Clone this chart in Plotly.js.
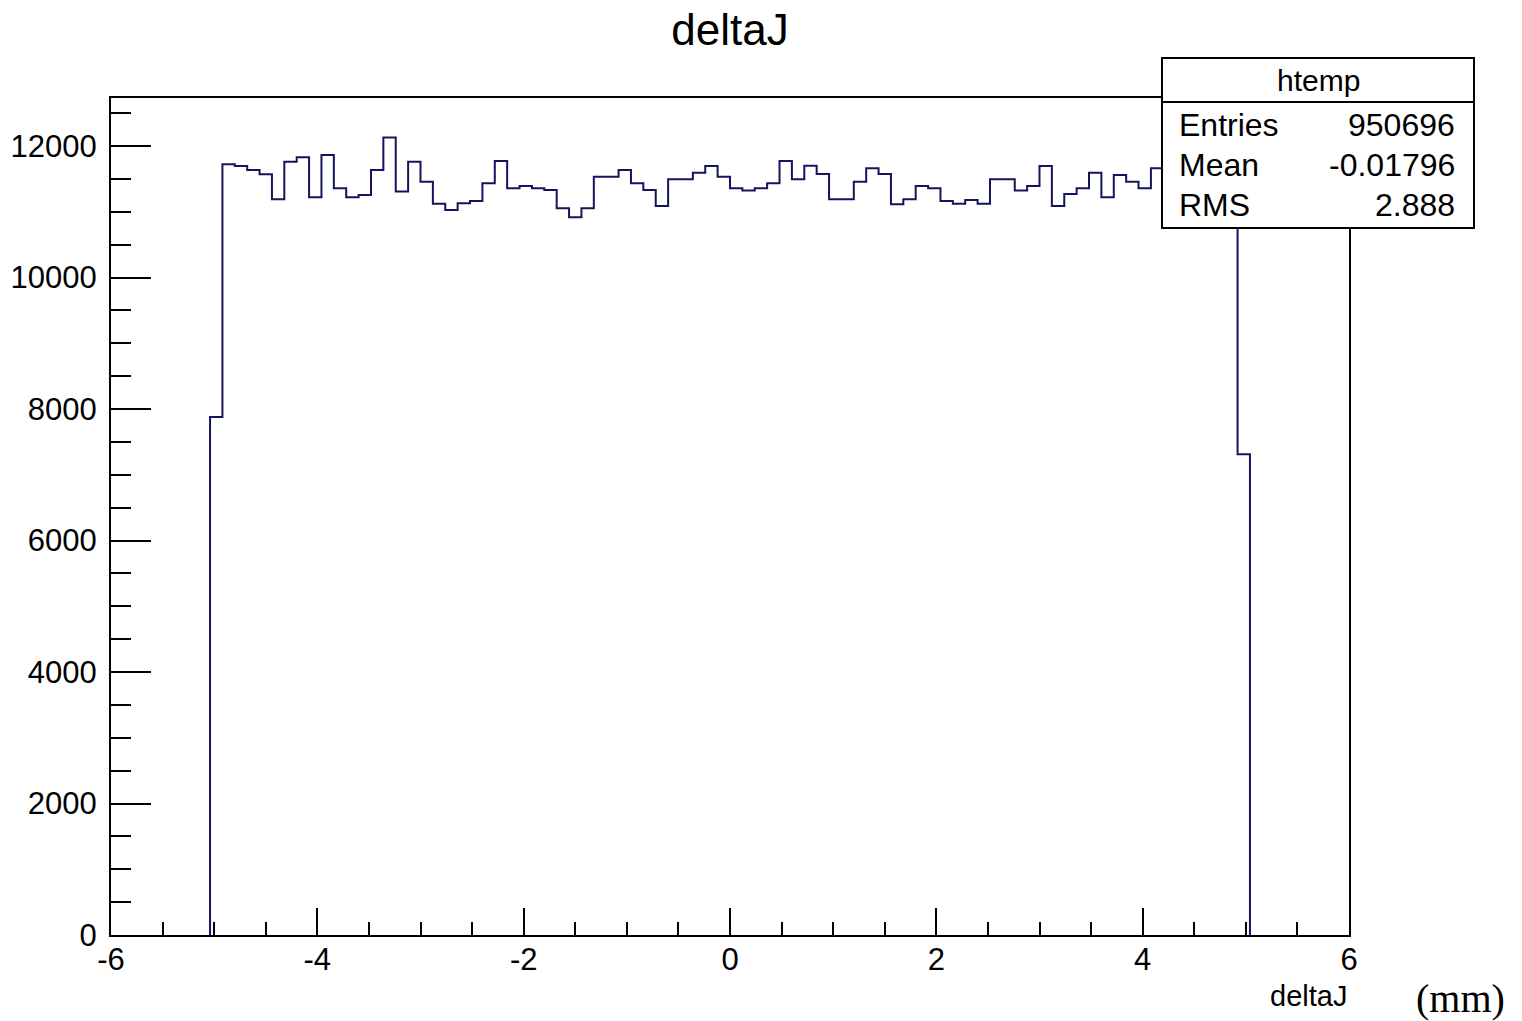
<!DOCTYPE html>
<html>
<head>
<meta charset="utf-8">
<script src="https://cdn.plot.ly/plotly-3.0.1.min.js"></script>
<style>
  html, body { margin: 0; padding: 0; background: #ffffff; }
  #chart { width: 1522px; height: 1021px; }
</style>
</head>
<body>
<div id="chart"></div>
<script>
// ---- data ----
const histName = "htemp";
const varName = "deltaJ";
const unitLabel = "(mm)";
const xMin = -6;
const xMax = 6;
const nBins = 100;
// bin contents, bins 0..99 (bins 85-90 hidden behind the stats box in the reference)
const counts = [
  0, 0, 0, 0, 0, 0, 0, 0,
  7878, 11721, 11696, 11635, 11570, 11190, 11762, 11828, 11221, 11863,
  11357, 11221, 11256, 11635, 12131, 11307, 11762, 11458, 11120, 11028,
  11130, 11165, 11433, 11772, 11357, 11393, 11357, 11332, 11054, 10917,
  11054, 11534, 11534, 11635, 11433, 11332, 11089, 11494, 11494, 11595,
  11696, 11534, 11357, 11322, 11357, 11433, 11772, 11494, 11701, 11575,
  11190, 11190, 11458, 11661, 11575, 11115, 11190, 11393, 11357, 11165,
  11120, 11180, 11120, 11494, 11494, 11322, 11393, 11696, 11089, 11271,
  11357, 11595, 11221, 11559, 11458, 11357, 11661, 11500, 11380, 11600,
  11450, 11300, 11550, 7312,
  0, 0, 0, 0, 0, 0, 0, 0
];
const statLabels = ["Entries", "Mean", "RMS"];
const statValues = ["950696", "-0.01796", "2.888"];
const yMax = 12730;
const xTickVals = [-6, -4, -2, 0, 2, 4, 6];
const yTickVals = [0, 2000, 4000, 6000, 8000, 10000, 12000];

// ---- build step outline from the filled bins ----
const binW = (xMax - xMin) / nBins;
let first = counts.findIndex(c => c > 0);
let last = counts.length - 1;
while (last > 0 && counts[last] === 0) last--;
const xs = [xMin + first * binW], ys = [0];
for (let i = first; i <= last; i++) { xs.push(xMin + i * binW); ys.push(counts[i]); }
xs.push(xMin + (last + 1) * binW); ys.push(0);

const FONT = '"Liberation Sans", Arial, Helvetica, sans-serif';

// pixel -> paper helpers for the overlay box
const L = 111, R = 1349, T = 98, B = 935;
const px = p => (p - L) / (R - L);
const py = p => (B - p) / (B - T);

const trace = {
  type: 'scatter', mode: 'lines',
  x: xs, y: ys,
  line: { shape: 'hv', color: '#14145e', width: 2 },
  hoverinfo: 'x+y', showlegend: false, cliponaxis: true
};

const boxL = 1162, boxR = 1474, boxT = 58, boxB = 228, boxDiv = 102;
const shapes = [
  { type: 'rect', xref: 'paper', yref: 'paper', layer: 'above',
    x0: px(boxL), x1: px(boxR), y0: py(boxB), y1: py(boxT),
    fillcolor: '#ffffff', line: { color: '#000000', width: 2 } },
  { type: 'line', xref: 'paper', yref: 'paper', layer: 'above',
    x0: px(boxL), x1: px(boxR), y0: py(boxDiv), y1: py(boxDiv),
    line: { color: '#000000', width: 2 } }
];

const annotations = [
  { text: histName, xref: 'paper', yref: 'paper', x: px((boxL + boxR) / 2), y: py(80),
    xanchor: 'center', yanchor: 'middle', showarrow: false,
    font: { family: FONT, size: 30, color: '#000' } },
  // x-axis title at bottom right
  { text: varName, xref: 'paper', yref: 'paper', x: px(1349), y: py(996),
    xanchor: 'right', yanchor: 'middle', showarrow: false,
    font: { family: FONT, size: 29, color: '#000' } },
  { text: unitLabel, xref: 'paper', yref: 'paper', x: px(1460), y: py(998),
    xanchor: 'center', yanchor: 'middle', showarrow: false,
    font: { family: '"Liberation Serif", "Times New Roman", serif', size: 40, color: '#000' } }
];
const rowY = [125, 165, 205];
statLabels.forEach((lab, i) => {
  annotations.push({ text: lab, xref: 'paper', yref: 'paper', x: px(1177), y: py(rowY[i]),
    xanchor: 'left', yanchor: 'middle', showarrow: false,
    font: { family: FONT, size: 32, color: '#000' } });
  annotations.push({ text: statValues[i], xref: 'paper', yref: 'paper', x: px(1457), y: py(rowY[i]),
    xanchor: 'right', yanchor: 'middle', showarrow: false,
    font: { family: FONT, size: 32, color: '#000' } });
});

const layout = {
  width: 1522, height: 1021,
  margin: { l: L, r: 1522 - R, t: T, b: 1021 - B, pad: 0 },
  paper_bgcolor: '#ffffff', plot_bgcolor: '#ffffff',
  title: { text: varName, x: 0.5, xref: 'paper', y: 1 - 30 / 1021, yref: 'container',
           xanchor: 'center', yanchor: 'middle',
           font: { family: FONT, size: 44, color: '#000' } },
  xaxis: {
    range: [xMin, xMax], showgrid: false, zeroline: false,
    showline: true, linecolor: '#000', linewidth: 2, mirror: true,
    ticks: 'inside', ticklen: 27, tickwidth: 2, tickcolor: '#000',
    tickvals: xTickVals, ticktext: xTickVals.map(String),
    minor: { dtick: 0.5, ticks: 'inside', ticklen: 13, tickwidth: 2, tickcolor: '#000', showgrid: false },
    tickfont: { family: FONT, size: 31, color: '#000' },
    ticklabelstandoff: -4,
    fixedrange: true
  },
  yaxis: {
    range: [0, yMax], showgrid: false, zeroline: false,
    showline: true, linecolor: '#000', linewidth: 2, mirror: true,
    ticks: 'inside', ticklen: 40, tickwidth: 2, tickcolor: '#000',
    tickvals: yTickVals, ticktext: yTickVals.map(String),
    minor: { dtick: 500, tick0: 0, ticks: 'inside', ticklen: 20, tickwidth: 2, tickcolor: '#000', showgrid: false },
    tickfont: { family: FONT, size: 31, color: '#000' },
    ticklabelstandoff: 6,
    fixedrange: true
  },
  shapes: shapes,
  annotations: annotations,
  showlegend: false
};

Plotly.newPlot('chart', [trace], layout, { staticPlot: true, displayModeBar: false });
</script>
</body>
</html>
